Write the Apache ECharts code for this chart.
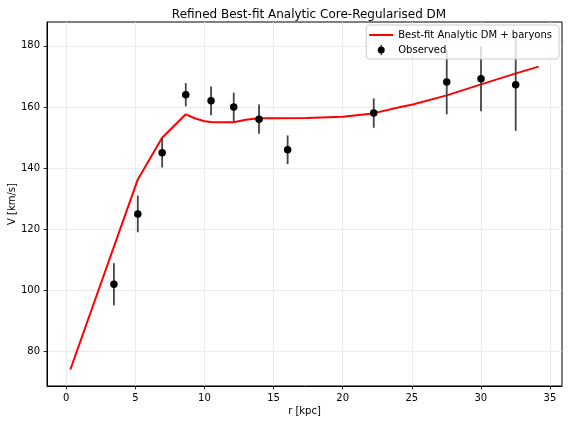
<!DOCTYPE html>
<html>
<head>
<meta charset="utf-8">
<script src="https://cdn.jsdelivr.net/npm/echarts@6/dist/echarts.min.js"></script>
<style>html,body{margin:0;padding:0;background:#fff}#c{width:568px;height:424px}</style>
</head>
<body>
<div id="c"></div>
<script>
// Observed data
const obsR   = [3.45, 5.18, 6.94, 8.65, 10.48, 12.12, 13.95, 16.02, 22.25, 27.53, 30.01, 32.52];
const obsV   = [102, 125, 145, 164, 162, 160, 156, 146, 158, 168.2, 169.2, 167.3];
const obsErr = [6.9, 6, 4.8, 3.8, 4.7, 4.7, 4.8, 4.7, 4.8, 10.6, 10.6, 15.1];
// Model curve
const fitR = [0.3, 5.18, 6.94, 8.65, 9.3, 10.0, 10.5, 11.1, 12.1, 13.0, 13.9, 15.0, 17.4, 20.0, 22.2, 24.1, 25.07, 27.53, 30.01, 32.54, 34.18];
const fitV = [74.1, 136.3, 149.9, 157.6, 156.3, 155.3, 155.1, 155.0, 155.0, 155.8, 156.3, 156.3, 156.4, 156.8, 157.9, 159.9, 160.8, 163.8, 167.4, 171.0, 173.2];
// Ticks
const xTicks = [0, 5, 10, 15, 20, 25, 30, 35];
const yTicks = [80, 100, 120, 140, 160, 180];

const FONT = 'DejaVu Sans';
const chart = echarts.init(document.getElementById('c'), null, {renderer: 'canvas'});
const obsData = obsR.map((r, i) => [r, obsV[i], obsErr[i]]);
const fitData = fitR.map((r, i) => [r, fitV[i]]);

const axisCommon = {
  axisLine: {show: true, onZero: false, lineStyle: {color: '#000', width: 1}},
  axisTick: {show: true, length: 3.5, inside: false, lineStyle: {color: '#000', width: 0.8}},
  splitLine: {show: true, lineStyle: {color: '#e6e6e6', width: 0.8}},
  nameTextStyle: {fontFamily: FONT, fontSize: 10, color: '#000'},
  nameMoveOverlap: false
};

chart.setOption({
  animation: false,
  backgroundColor: '#fff',
  title: {
    text: 'Refined Best-fit Analytic Core-Regularised DM',
    left: 304, top: 4, textAlign: 'center',
    textStyle: {fontFamily: FONT, fontSize: 12, fontWeight: 'normal', color: '#000'}
  },
  grid: {left: 47, top: 22, width: 515, height: 364, show: true, borderColor: '#000', borderWidth: 1,
         backgroundColor: 'transparent', containLabel: false, outerBoundsMode: 'none'},
  legend: {
    right: 9, top: 25, orient: 'vertical',
    backgroundColor: 'rgba(255,255,255,0.8)', borderColor: '#cccccc', borderWidth: 1, borderRadius: 3,
    padding: [5, 7, 4, 3], itemGap: 5, itemWidth: 24, itemHeight: 10,
    textStyle: {fontFamily: FONT, fontSize: 10, color: '#000'},
    data: [
      {name: 'Best-fit Analytic DM + baryons', icon: 'path://M0 0 H24 V2 H0 Z', itemStyle: {color: '#ff0000'}},
      {name: 'Observed', icon: 'path://M2.9 0 H4.1 V10 H2.9 Z M0 5 A3.5 3.5 0 1 1 7 5 A3.5 3.5 0 1 1 0 5 Z', itemStyle: {color: '#000'}}
    ]
  },
  xAxis: Object.assign({}, axisCommon, {
    type: 'value', min: -1.39, max: 35.87,
    name: 'r [kpc]', nameLocation: 'middle', nameGap: 20,
    axisTick: Object.assign({}, axisCommon.axisTick, {customValues: xTicks}),
    axisLabel: {customValues: xTicks, margin: 7, fontFamily: FONT, fontSize: 10, color: '#000'}
  }),
  yAxis: Object.assign({}, axisCommon, {
    type: 'value', min: 68.7, max: 187.8,
    name: 'V [km/s]', nameLocation: 'middle', nameGap: 30, nameRotate: 90,
    axisTick: Object.assign({}, axisCommon.axisTick, {customValues: yTicks}),
    axisLabel: {customValues: yTicks, margin: 7, fontFamily: FONT, fontSize: 10, color: '#000'}
  }),
  series: [
    {
      name: 'Best-fit Analytic DM + baryons', type: 'line', data: fitData,
      symbol: 'none', smooth: false, z: 2,
      lineStyle: {color: '#ff0000', width: 2}, itemStyle: {color: '#ff0000'}
    },
    {
      name: 'errbars', type: 'custom', data: obsData, z: 3,
      renderItem: function (params, api) {
        const x = api.value(0), y = api.value(1), e = api.value(2);
        const p1 = api.coord([x, y - e]);
        const p2 = api.coord([x, y + e]);
        return {type: 'line', shape: {x1: p1[0], y1: p1[1], x2: p2[0], y2: p2[1]},
                style: {stroke: '#444', lineWidth: 1.8}};
      },
      encode: {x: 0, y: 1}
    },
    {
      name: 'Observed', type: 'scatter', data: obsData, z: 4,
      symbol: 'circle', symbolSize: 7.5,
      itemStyle: {color: '#000', opacity: 1}
    }
  ]
});
</script>
</body>
</html>
